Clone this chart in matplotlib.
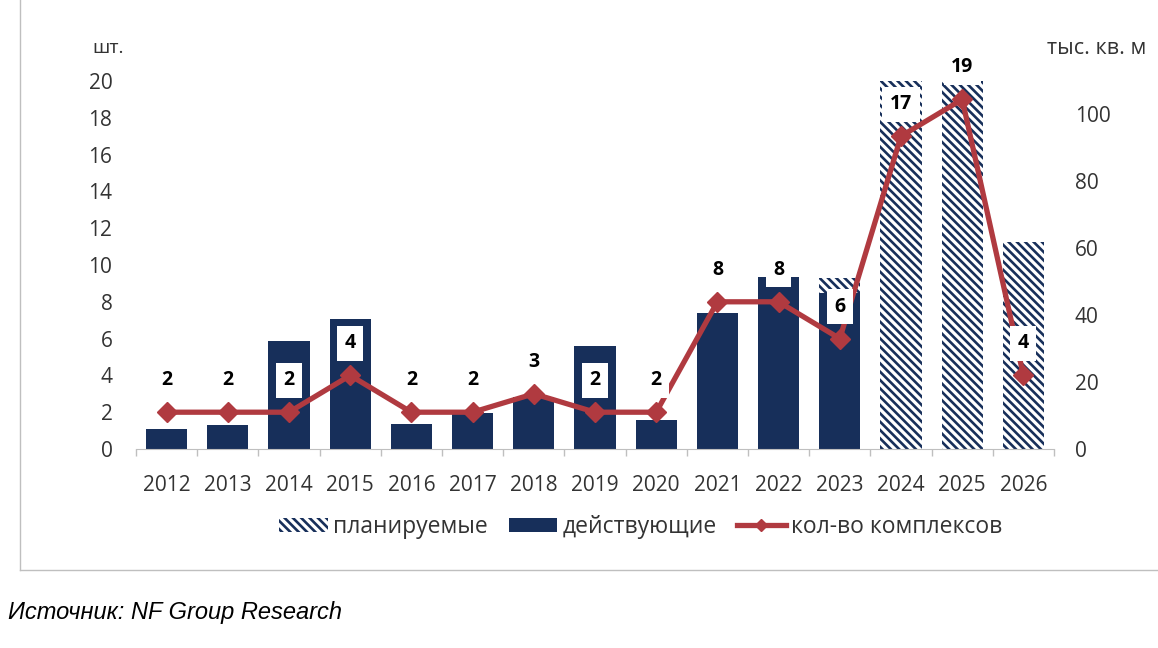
import matplotlib.pyplot as plt
import numpy as np
from matplotlib.lines import Line2D
from matplotlib.patches import Patch

plt.rcParams['font.family'] = ['Open Sans', 'DejaVu Sans']

years = ['2012', '2013', '2014', '2015', '2016', '2017', '2018', '2019',
         '2020', '2021', '2022', '2023', '2024', '2025', '2026']
# тыс. кв. м (правая ось)
active = [6.0, 7.2, 32.3, 38.9, 7.5, 10.8, 15.6, 30.8, 8.7, 40.7, 51.5, 46.7, 0, 0, 0]
planned = [0, 0, 0, 0, 0, 0, 0, 0, 0, 0, 0, 4.3, 115, 118, 62]
# шт. (левая ось)
complexes = [2, 2, 2, 4, 2, 2, 3, 2, 2, 8, 8, 6, 17, 19, 4]

navy = '#172F5A'
red = '#B03A40'
grey = '#BFBFBF'
txt = '#333333'
plt.rcParams['hatch.color'] = navy
plt.rcParams['hatch.linewidth'] = 1.9

fig = plt.figure(figsize=(11.58, 6.48), dpi=100)
ax_bars = fig.add_axes([136 / 1158, 1 - 449 / 648, 918 / 1158, 368 / 648])
ax_line = ax_bars.twinx()

x = np.arange(len(years))
ax_bars.bar(x, active, width=0.67, color=navy, linewidth=0)
ax_bars.bar(x, planned, width=0.67, bottom=active, facecolor='white',
            edgecolor=navy, linewidth=0, hatch='\\\\\\\\')
ax_bars.set_ylim(0, 110)
ax_bars.set_yticks([0, 20, 40, 60, 80, 100])
ax_bars.yaxis.tick_right()

ax_line.plot(x, complexes, color=red, lw=3.8, marker='D', markersize=10, zorder=3)
ax_line.set_ylim(0, 20)
ax_line.set_yticks(range(0, 21, 2))
ax_line.yaxis.tick_left()

for xi, v in zip(x, complexes):
    ax_line.annotate(str(v), (xi, v), xytext=(0, 23), textcoords='offset points',
                     ha='center', va='center', fontsize=14, fontweight='bold',
                     color='black', zorder=5, annotation_clip=False,
                     bbox=dict(boxstyle='square,pad=0.38', fc='white', ec='none'))

ax_bars.set_xlim(-0.5, len(years) - 0.5)
ax_bars.set_xticks(x)
ax_bars.set_xticklabels(years)
ax_bars.set_xticks(np.arange(-0.5, len(years), 1), minor=True)
ax_bars.tick_params(axis='x', which='major', length=0, pad=19, labelsize=15, labelcolor=txt)
ax_bars.tick_params(axis='x', which='minor', length=5, color=grey, width=1)
ax_bars.tick_params(axis='y', length=0, pad=15, labelsize=15, labelcolor=txt)
ax_line.tick_params(axis='y', length=0, pad=17, labelsize=15, labelcolor=txt)

for a in (ax_bars, ax_line):
    for s in a.spines.values():
        s.set_visible(False)
ax_bars.spines['bottom'].set_visible(True)
ax_bars.spines['bottom'].set_color(grey)

fig.text(92 / 1158, 1 - 48 / 648, 'шт.', fontsize=14, color=txt, va='center')
fig.text(1146 / 1158, 1 - 48 / 648, 'тыс. кв. м', fontsize=15.5, color=txt,
         va='center', ha='right')

handles = [Patch(facecolor='white', edgecolor=navy, linewidth=0, hatch='\\\\\\\\'),
           Patch(facecolor=navy, linewidth=0),
           Line2D([0], [0], color=red, lw=3.8, marker='D', markersize=6)]
labels = ['планируемые', 'действующие', 'кол-во комплексов']
fig.legend(handles, labels, loc='center', bbox_to_anchor=(641 / 1158, 1 - 527 / 648),
           ncol=3, frameon=False, fontsize=16.5, handlelength=2.1, handleheight=0.55,
           columnspacing=0.9, handletextpad=0.25, labelcolor=txt)

# рамка вокруг диаграммы
fig.add_artist(Line2D([20 / 1158, 20 / 1158], [1, 1 - 570 / 648],
                      transform=fig.transFigure, color=grey, lw=1))
fig.add_artist(Line2D([20 / 1158, 1], [1 - 570 / 648, 1 - 570 / 648],
                      transform=fig.transFigure, color=grey, lw=1))

fig.text(8 / 1158, 1 - 613 / 648, 'Источник: NF Group Research', fontsize=17,
         style='italic', family=['Liberation Sans', 'DejaVu Sans'], color='black',
         va='center')

fig.savefig('out.png', dpi=100)
